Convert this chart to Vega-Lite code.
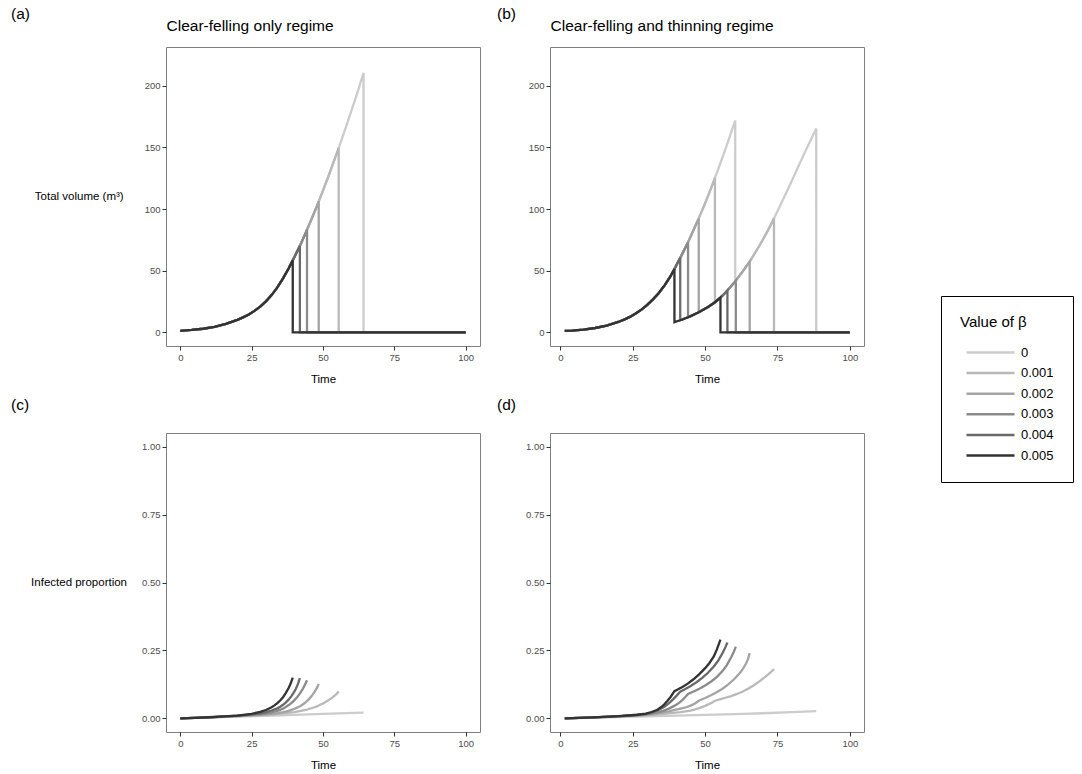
{
"$schema": "https://vega.github.io/schema/vega-lite/v6.json",
"padding": {"left": 10, "top": 6, "right": 0, "bottom": 0},
"config": {
  "font": "Liberation Sans",
  "view": {"stroke": "#7f7f7f", "strokeWidth": 1},
  "axis": {"grid": false, "domain": false, "tickColor": "#333333", "tickSize": 4, "labelColor": "#4d4d4d", "labelFontSize": 9.5, "labelFont": "Liberation Sans", "titleFont": "Liberation Sans", "titleFontSize": 11.5, "titleFontWeight": "normal", "titleColor": "black", "labelPadding": 2, "labelFlush": false, "labelOverlap": false},
  "title": {"anchor": "start", "frame": "group", "fontSize": 15.5, "fontWeight": "normal", "font": "Liberation Sans", "color": "black"},
  "legend": {"orient": "none", "legendX": 775, "legendY": 249, "strokeColor": "black", "fillColor": "white", "padding": 19, "titleFontSize": 15, "titleFontWeight": "normal", "titleColor": "black", "titleFont": "Liberation Sans", "labelFont": "Liberation Sans", "labelFontSize": 13, "labelColor": "black", "symbolSize": 384, "symbolStrokeWidth": 2.5, "symbolOffset": 19, "labelOffset": 19, "rowPadding": 1.6, "titlePadding": 11}
},
"datasets": {
"vol_a": [
{"b":"0","t":0,"v":1.3},{"b":"0","t":4,"v":2.0},{"b":"0","t":8,"v":3.0},{"b":"0","t":12,"v":4.6},{"b":"0","t":16,"v":6.9},{"b":"0","t":20,"v":10.2},{"b":"0","t":22,"v":12.2},{"b":"0","t":24,"v":14.6},{"b":"0","t":26,"v":17.5},{"b":"0","t":28,"v":21.0},{"b":"0","t":30,"v":25.2},{"b":"0","t":32,"v":30.3},{"b":"0","t":34,"v":36.5},{"b":"0","t":36,"v":43.8},{"b":"0","t":38,"v":52.1},{"b":"0","t":39.4,"v":58.5},{"b":"0","t":40,"v":61.2},{"b":"0","t":42,"v":70.8},{"b":"0","t":44,"v":81.1},{"b":"0","t":46,"v":92.0},{"b":"0","t":48,"v":103.3},{"b":"0","t":50,"v":115.1},{"b":"0","t":52,"v":127.3},{"b":"0","t":54,"v":139.9},{"b":"0","t":56,"v":152.9},{"b":"0","t":58,"v":166.3},{"b":"0","t":60,"v":180.1},{"b":"0","t":62,"v":194.1},{"b":"0","t":64.2,"v":210.5},{"b":"0","t":64.2,"v":0},{"b":"0","t":100,"v":0},
{"b":"0.001","t":0,"v":1.3},{"b":"0.001","t":4,"v":2.0},{"b":"0.001","t":8,"v":3.0},{"b":"0.001","t":12,"v":4.6},{"b":"0.001","t":16,"v":6.9},{"b":"0.001","t":20,"v":10.2},{"b":"0.001","t":22,"v":12.2},{"b":"0.001","t":24,"v":14.6},{"b":"0.001","t":26,"v":17.5},{"b":"0.001","t":28,"v":21.0},{"b":"0.001","t":30,"v":25.2},{"b":"0.001","t":32,"v":30.3},{"b":"0.001","t":34,"v":36.5},{"b":"0.001","t":36,"v":43.8},{"b":"0.001","t":38,"v":52.1},{"b":"0.001","t":39.4,"v":58.5},{"b":"0.001","t":40,"v":61.2},{"b":"0.001","t":42,"v":70.8},{"b":"0.001","t":44,"v":81.1},{"b":"0.001","t":46,"v":92.0},{"b":"0.001","t":48,"v":103.3},{"b":"0.001","t":50,"v":115.1},{"b":"0.001","t":52,"v":127.3},{"b":"0.001","t":54,"v":139.9},{"b":"0.001","t":55.5,"v":149.7},{"b":"0.001","t":55.5,"v":0},{"b":"0.001","t":100,"v":0},
{"b":"0.002","t":0,"v":1.3},{"b":"0.002","t":4,"v":2.0},{"b":"0.002","t":8,"v":3.0},{"b":"0.002","t":12,"v":4.6},{"b":"0.002","t":16,"v":6.9},{"b":"0.002","t":20,"v":10.2},{"b":"0.002","t":22,"v":12.2},{"b":"0.002","t":24,"v":14.6},{"b":"0.002","t":26,"v":17.5},{"b":"0.002","t":28,"v":21.0},{"b":"0.002","t":30,"v":25.2},{"b":"0.002","t":32,"v":30.3},{"b":"0.002","t":34,"v":36.5},{"b":"0.002","t":36,"v":43.8},{"b":"0.002","t":38,"v":52.1},{"b":"0.002","t":39.4,"v":58.5},{"b":"0.002","t":40,"v":61.2},{"b":"0.002","t":42,"v":70.8},{"b":"0.002","t":44,"v":81.1},{"b":"0.002","t":46,"v":92.0},{"b":"0.002","t":48,"v":103.3},{"b":"0.002","t":48.5,"v":106.3},{"b":"0.002","t":48.5,"v":0},{"b":"0.002","t":100,"v":0},
{"b":"0.003","t":0,"v":1.3},{"b":"0.003","t":4,"v":2.0},{"b":"0.003","t":8,"v":3.0},{"b":"0.003","t":12,"v":4.6},{"b":"0.003","t":16,"v":6.9},{"b":"0.003","t":20,"v":10.2},{"b":"0.003","t":22,"v":12.2},{"b":"0.003","t":24,"v":14.6},{"b":"0.003","t":26,"v":17.5},{"b":"0.003","t":28,"v":21.0},{"b":"0.003","t":30,"v":25.2},{"b":"0.003","t":32,"v":30.3},{"b":"0.003","t":34,"v":36.5},{"b":"0.003","t":36,"v":43.8},{"b":"0.003","t":38,"v":52.1},{"b":"0.003","t":39.4,"v":58.5},{"b":"0.003","t":40,"v":61.2},{"b":"0.003","t":42,"v":70.8},{"b":"0.003","t":44,"v":81.1},{"b":"0.003","t":44.4,"v":83.3},{"b":"0.003","t":44.4,"v":0},{"b":"0.003","t":100,"v":0},
{"b":"0.004","t":0,"v":1.3},{"b":"0.004","t":4,"v":2.0},{"b":"0.004","t":8,"v":3.0},{"b":"0.004","t":12,"v":4.6},{"b":"0.004","t":16,"v":6.9},{"b":"0.004","t":20,"v":10.2},{"b":"0.004","t":22,"v":12.2},{"b":"0.004","t":24,"v":14.6},{"b":"0.004","t":26,"v":17.5},{"b":"0.004","t":28,"v":21.0},{"b":"0.004","t":30,"v":25.2},{"b":"0.004","t":32,"v":30.3},{"b":"0.004","t":34,"v":36.5},{"b":"0.004","t":36,"v":43.8},{"b":"0.004","t":38,"v":52.1},{"b":"0.004","t":39.4,"v":58.5},{"b":"0.004","t":40,"v":61.2},{"b":"0.004","t":41.9,"v":70.3},{"b":"0.004","t":41.9,"v":0},{"b":"0.004","t":100,"v":0},
{"b":"0.005","t":0,"v":1.3},{"b":"0.005","t":4,"v":2.0},{"b":"0.005","t":8,"v":3.0},{"b":"0.005","t":12,"v":4.6},{"b":"0.005","t":16,"v":6.9},{"b":"0.005","t":20,"v":10.2},{"b":"0.005","t":22,"v":12.2},{"b":"0.005","t":24,"v":14.6},{"b":"0.005","t":26,"v":17.5},{"b":"0.005","t":28,"v":21.0},{"b":"0.005","t":30,"v":25.2},{"b":"0.005","t":32,"v":30.3},{"b":"0.005","t":34,"v":36.5},{"b":"0.005","t":36,"v":43.8},{"b":"0.005","t":38,"v":52.1},{"b":"0.005","t":39.4,"v":58.5},{"b":"0.005","t":39.4,"v":0},{"b":"0.005","t":100,"v":0}
],
"vol_b": [
{"b":"0","t":1.5,"v":1.2},{"b":"0","t":4,"v":1.5},{"b":"0","t":8,"v":2.3},{"b":"0","t":12,"v":3.6},{"b":"0","t":16,"v":5.6},{"b":"0","t":20,"v":8.5},{"b":"0","t":22,"v":10.4},{"b":"0","t":24,"v":12.6},{"b":"0","t":26,"v":15.3},{"b":"0","t":28,"v":18.5},{"b":"0","t":30,"v":22.3},{"b":"0","t":32,"v":26.8},{"b":"0","t":34,"v":32.0},{"b":"0","t":36,"v":38.2},{"b":"0","t":38,"v":45.4},{"b":"0","t":39.4,"v":51.5},{"b":"0","t":40,"v":54.2},{"b":"0","t":41.4,"v":60.5},{"b":"0","t":42,"v":63.3},{"b":"0","t":44.1,"v":73.2},{"b":"0","t":46,"v":83.0},{"b":"0","t":47.8,"v":92.5},{"b":"0","t":50,"v":104.8},{"b":"0","t":52,"v":116.6},{"b":"0","t":53.4,"v":125.3},{"b":"0","t":54,"v":129.1},{"b":"0","t":56,"v":142.0},{"b":"0","t":58,"v":155.3},{"b":"0","t":60.4,"v":171.8},{"b":"0","t":60.4,"v":41.4},{"b":"0","t":60.6,"v":42.0},{"b":"0","t":63,"v":49.5},{"b":"0","t":65.4,"v":57.5},{"b":"0","t":66,"v":59.7},{"b":"0","t":69,"v":71.3},{"b":"0","t":72,"v":84.0},{"b":"0","t":73.8,"v":92.5},{"b":"0","t":75,"v":98.3},{"b":"0","t":78,"v":113.0},{"b":"0","t":81,"v":128.3},{"b":"0","t":84,"v":143.8},{"b":"0","t":87,"v":158.5},{"b":"0","t":88.4,"v":165.5},{"b":"0","t":88.4,"v":0},{"b":"0","t":100,"v":0},
{"b":"0.001","t":1.5,"v":1.2},{"b":"0.001","t":4,"v":1.5},{"b":"0.001","t":8,"v":2.3},{"b":"0.001","t":12,"v":3.6},{"b":"0.001","t":16,"v":5.6},{"b":"0.001","t":20,"v":8.5},{"b":"0.001","t":22,"v":10.4},{"b":"0.001","t":24,"v":12.6},{"b":"0.001","t":26,"v":15.3},{"b":"0.001","t":28,"v":18.5},{"b":"0.001","t":30,"v":22.3},{"b":"0.001","t":32,"v":26.8},{"b":"0.001","t":34,"v":32.0},{"b":"0.001","t":36,"v":38.2},{"b":"0.001","t":38,"v":45.4},{"b":"0.001","t":39.4,"v":51.5},{"b":"0.001","t":40,"v":54.2},{"b":"0.001","t":41.4,"v":60.5},{"b":"0.001","t":42,"v":63.3},{"b":"0.001","t":44.1,"v":73.2},{"b":"0.001","t":46,"v":83.0},{"b":"0.001","t":47.8,"v":92.5},{"b":"0.001","t":50,"v":104.8},{"b":"0.001","t":52,"v":116.6},{"b":"0.001","t":53.4,"v":125.3},{"b":"0.001","t":53.4,"v":24.5},{"b":"0.001","t":54,"v":25.6},{"b":"0.001","t":55.3,"v":28.3},{"b":"0.001","t":57,"v":32.2},{"b":"0.001","t":57.7,"v":34.0},{"b":"0.001","t":60,"v":40.2},{"b":"0.001","t":60.6,"v":42.0},{"b":"0.001","t":63,"v":49.5},{"b":"0.001","t":65.4,"v":57.5},{"b":"0.001","t":66,"v":59.7},{"b":"0.001","t":69,"v":71.3},{"b":"0.001","t":72,"v":84.0},{"b":"0.001","t":73.8,"v":92.5},{"b":"0.001","t":73.8,"v":0},{"b":"0.001","t":100,"v":0},
{"b":"0.002","t":1.5,"v":1.2},{"b":"0.002","t":4,"v":1.5},{"b":"0.002","t":8,"v":2.3},{"b":"0.002","t":12,"v":3.6},{"b":"0.002","t":16,"v":5.6},{"b":"0.002","t":20,"v":8.5},{"b":"0.002","t":22,"v":10.4},{"b":"0.002","t":24,"v":12.6},{"b":"0.002","t":26,"v":15.3},{"b":"0.002","t":28,"v":18.5},{"b":"0.002","t":30,"v":22.3},{"b":"0.002","t":32,"v":26.8},{"b":"0.002","t":34,"v":32.0},{"b":"0.002","t":36,"v":38.2},{"b":"0.002","t":38,"v":45.4},{"b":"0.002","t":39.4,"v":51.5},{"b":"0.002","t":40,"v":54.2},{"b":"0.002","t":41.4,"v":60.5},{"b":"0.002","t":42,"v":63.3},{"b":"0.002","t":44.1,"v":73.2},{"b":"0.002","t":46,"v":83.0},{"b":"0.002","t":47.8,"v":92.5},{"b":"0.002","t":47.8,"v":16.3},{"b":"0.002","t":48,"v":16.5},{"b":"0.002","t":51,"v":20.6},{"b":"0.002","t":53.4,"v":24.5},{"b":"0.002","t":54,"v":25.6},{"b":"0.002","t":55.3,"v":28.3},{"b":"0.002","t":57,"v":32.2},{"b":"0.002","t":57.7,"v":34.0},{"b":"0.002","t":60,"v":40.2},{"b":"0.002","t":60.6,"v":42.0},{"b":"0.002","t":63,"v":49.5},{"b":"0.002","t":65.4,"v":57.5},{"b":"0.002","t":65.4,"v":0},{"b":"0.002","t":100,"v":0},
{"b":"0.003","t":1.5,"v":1.2},{"b":"0.003","t":4,"v":1.5},{"b":"0.003","t":8,"v":2.3},{"b":"0.003","t":12,"v":3.6},{"b":"0.003","t":16,"v":5.6},{"b":"0.003","t":20,"v":8.5},{"b":"0.003","t":22,"v":10.4},{"b":"0.003","t":24,"v":12.6},{"b":"0.003","t":26,"v":15.3},{"b":"0.003","t":28,"v":18.5},{"b":"0.003","t":30,"v":22.3},{"b":"0.003","t":32,"v":26.8},{"b":"0.003","t":34,"v":32.0},{"b":"0.003","t":36,"v":38.2},{"b":"0.003","t":38,"v":45.4},{"b":"0.003","t":39.4,"v":51.5},{"b":"0.003","t":40,"v":54.2},{"b":"0.003","t":41.4,"v":60.5},{"b":"0.003","t":42,"v":63.3},{"b":"0.003","t":44.1,"v":73.2},{"b":"0.003","t":44.1,"v":12.3},{"b":"0.003","t":45,"v":13.2},{"b":"0.003","t":47.8,"v":16.3},{"b":"0.003","t":51,"v":20.6},{"b":"0.003","t":53.4,"v":24.5},{"b":"0.003","t":55.3,"v":28.3},{"b":"0.003","t":57,"v":32.2},{"b":"0.003","t":57.7,"v":34.0},{"b":"0.003","t":60,"v":40.2},{"b":"0.003","t":60.6,"v":42.0},{"b":"0.003","t":60.6,"v":0},{"b":"0.003","t":100,"v":0},
{"b":"0.004","t":1.5,"v":1.2},{"b":"0.004","t":4,"v":1.5},{"b":"0.004","t":8,"v":2.3},{"b":"0.004","t":12,"v":3.6},{"b":"0.004","t":16,"v":5.6},{"b":"0.004","t":20,"v":8.5},{"b":"0.004","t":22,"v":10.4},{"b":"0.004","t":24,"v":12.6},{"b":"0.004","t":26,"v":15.3},{"b":"0.004","t":28,"v":18.5},{"b":"0.004","t":30,"v":22.3},{"b":"0.004","t":32,"v":26.8},{"b":"0.004","t":34,"v":32.0},{"b":"0.004","t":36,"v":38.2},{"b":"0.004","t":38,"v":45.4},{"b":"0.004","t":39.4,"v":51.5},{"b":"0.004","t":40,"v":54.2},{"b":"0.004","t":41.4,"v":60.5},{"b":"0.004","t":41.4,"v":9.9},{"b":"0.004","t":42,"v":10.4},{"b":"0.004","t":44.1,"v":12.3},{"b":"0.004","t":45,"v":13.2},{"b":"0.004","t":47.8,"v":16.3},{"b":"0.004","t":51,"v":20.6},{"b":"0.004","t":53.4,"v":24.5},{"b":"0.004","t":55.3,"v":28.3},{"b":"0.004","t":57,"v":32.2},{"b":"0.004","t":57.7,"v":34.0},{"b":"0.004","t":57.7,"v":0},{"b":"0.004","t":100,"v":0},
{"b":"0.005","t":1.5,"v":1.2},{"b":"0.005","t":4,"v":1.5},{"b":"0.005","t":8,"v":2.3},{"b":"0.005","t":12,"v":3.6},{"b":"0.005","t":16,"v":5.6},{"b":"0.005","t":20,"v":8.5},{"b":"0.005","t":22,"v":10.4},{"b":"0.005","t":24,"v":12.6},{"b":"0.005","t":26,"v":15.3},{"b":"0.005","t":28,"v":18.5},{"b":"0.005","t":30,"v":22.3},{"b":"0.005","t":32,"v":26.8},{"b":"0.005","t":34,"v":32.0},{"b":"0.005","t":36,"v":38.2},{"b":"0.005","t":38,"v":45.4},{"b":"0.005","t":39.4,"v":51.5},{"b":"0.005","t":39.4,"v":8.3},{"b":"0.005","t":41.4,"v":9.9},{"b":"0.005","t":42,"v":10.4},{"b":"0.005","t":44.1,"v":12.3},{"b":"0.005","t":45,"v":13.2},{"b":"0.005","t":47.8,"v":16.3},{"b":"0.005","t":51,"v":20.6},{"b":"0.005","t":53.4,"v":24.5},{"b":"0.005","t":55.3,"v":28.3},{"b":"0.005","t":55.3,"v":0},{"b":"0.005","t":100,"v":0}
],
"inf_c": [
{"b":"0","t":0,"p":0},{"b":"0","t":10,"p":0.0031},{"b":"0","t":20,"p":0.0064},{"b":"0","t":30,"p":0.0098},{"b":"0","t":40,"p":0.0133},{"b":"0","t":50,"p":0.0168},{"b":"0","t":64.2,"p":0.021},
{"b":"0.001","t":0,"p":0},{"b":"0.001","t":5,"p":0.0017},{"b":"0.001","t":10,"p":0.0036},{"b":"0.001","t":15,"p":0.0058},{"b":"0.001","t":20,"p":0.0082},{"b":"0.001","t":25,"p":0.0105},{"b":"0.001","t":30,"p":0.0135},{"b":"0.001","t":35,"p":0.0175},{"b":"0.001","t":40,"p":0.0235},{"b":"0.001","t":44,"p":0.031},{"b":"0.001","t":47,"p":0.041},{"b":"0.001","t":48,"p":0.045},{"b":"0.001","t":49,"p":0.05},{"b":"0.001","t":50,"p":0.055},{"b":"0.001","t":51,"p":0.061},{"b":"0.001","t":52,"p":0.0675},{"b":"0.001","t":53,"p":0.0745},{"b":"0.001","t":54,"p":0.0825},{"b":"0.001","t":55,"p":0.093},{"b":"0.001","t":55.5,"p":0.099},
{"b":"0.002","t":0,"p":0},{"b":"0.002","t":5,"p":0.0017},{"b":"0.002","t":10,"p":0.0038},{"b":"0.002","t":15,"p":0.0062},{"b":"0.002","t":20,"p":0.0088},{"b":"0.002","t":25,"p":0.011},{"b":"0.002","t":30,"p":0.0145},{"b":"0.002","t":32,"p":0.0165},{"b":"0.002","t":34,"p":0.019},{"b":"0.002","t":36,"p":0.023},{"b":"0.002","t":38,"p":0.028},{"b":"0.002","t":40,"p":0.035},{"b":"0.002","t":42,"p":0.045},{"b":"0.002","t":43,"p":0.052},{"b":"0.002","t":44,"p":0.06},{"b":"0.002","t":45,"p":0.07},{"b":"0.002","t":46,"p":0.082},{"b":"0.002","t":47,"p":0.097},{"b":"0.002","t":48,"p":0.115},{"b":"0.002","t":48.5,"p":0.127},
{"b":"0.003","t":0,"p":0},{"b":"0.003","t":5,"p":0.0018},{"b":"0.003","t":10,"p":0.0039},{"b":"0.003","t":15,"p":0.0065},{"b":"0.003","t":20,"p":0.0095},{"b":"0.003","t":25,"p":0.013},{"b":"0.003","t":28,"p":0.0155},{"b":"0.003","t":30,"p":0.018},{"b":"0.003","t":32,"p":0.022},{"b":"0.003","t":34,"p":0.028},{"b":"0.003","t":36,"p":0.036},{"b":"0.003","t":38,"p":0.049},{"b":"0.003","t":39,"p":0.057},{"b":"0.003","t":40,"p":0.067},{"b":"0.003","t":41,"p":0.079},{"b":"0.003","t":42,"p":0.093},{"b":"0.003","t":43,"p":0.11},{"b":"0.003","t":44,"p":0.131},{"b":"0.003","t":44.4,"p":0.14},
{"b":"0.004","t":0,"p":0},{"b":"0.004","t":5,"p":0.0018},{"b":"0.004","t":10,"p":0.004},{"b":"0.004","t":15,"p":0.0068},{"b":"0.004","t":20,"p":0.01},{"b":"0.004","t":25,"p":0.0145},{"b":"0.004","t":28,"p":0.019},{"b":"0.004","t":30,"p":0.023},{"b":"0.004","t":32,"p":0.029},{"b":"0.004","t":34,"p":0.037},{"b":"0.004","t":35,"p":0.043},{"b":"0.004","t":36,"p":0.05},{"b":"0.004","t":37,"p":0.059},{"b":"0.004","t":38,"p":0.07},{"b":"0.004","t":39,"p":0.083},{"b":"0.004","t":40,"p":0.099},{"b":"0.004","t":40.5,"p":0.109},{"b":"0.004","t":41.2,"p":0.126},{"b":"0.004","t":41.9,"p":0.148},
{"b":"0.005","t":0,"p":0},{"b":"0.005","t":5,"p":0.0019},{"b":"0.005","t":10,"p":0.0042},{"b":"0.005","t":15,"p":0.0072},{"b":"0.005","t":20,"p":0.0105},{"b":"0.005","t":25,"p":0.017},{"b":"0.005","t":28,"p":0.024},{"b":"0.005","t":30,"p":0.031},{"b":"0.005","t":32,"p":0.041},{"b":"0.005","t":33,"p":0.048},{"b":"0.005","t":34,"p":0.056},{"b":"0.005","t":35,"p":0.066},{"b":"0.005","t":36,"p":0.078},{"b":"0.005","t":37,"p":0.094},{"b":"0.005","t":38,"p":0.113},{"b":"0.005","t":38.7,"p":0.129},{"b":"0.005","t":39.4,"p":0.15}
],
"inf_d": [
{"b":"0","t":1.5,"p":0},{"b":"0","t":10,"p":0.0022},{"b":"0","t":20,"p":0.0048},{"b":"0","t":30,"p":0.0074},{"b":"0","t":40,"p":0.01},{"b":"0","t":50,"p":0.0127},{"b":"0","t":60.4,"p":0.0157},{"b":"0","t":70,"p":0.019},{"b":"0","t":80,"p":0.0228},{"b":"0","t":88.4,"p":0.0265},
{"b":"0.001","t":1.5,"p":0},{"b":"0.001","t":6.5,"p":0.0017},{"b":"0.001","t":11.5,"p":0.0036},{"b":"0.001","t":16.5,"p":0.0058},{"b":"0.001","t":21.5,"p":0.0082},{"b":"0.001","t":26.5,"p":0.0105},{"b":"0.001","t":31.5,"p":0.0135},{"b":"0.001","t":36.5,"p":0.0175},{"b":"0.001","t":41.5,"p":0.0235},{"b":"0.001","t":45,"p":0.029},{"b":"0.001","t":48,"p":0.038},{"b":"0.001","t":50,"p":0.046},{"b":"0.001","t":52,"p":0.056},{"b":"0.001","t":53.4,"p":0.065},{"b":"0.001","t":55,"p":0.07},{"b":"0.001","t":57,"p":0.076},{"b":"0.001","t":59,"p":0.082},{"b":"0.001","t":61,"p":0.09},{"b":"0.001","t":63,"p":0.099},{"b":"0.001","t":65,"p":0.11},{"b":"0.001","t":67,"p":0.123},{"b":"0.001","t":69,"p":0.138},{"b":"0.001","t":71,"p":0.155},{"b":"0.001","t":72.5,"p":0.168},{"b":"0.001","t":73.8,"p":0.182},
{"b":"0.002","t":1.5,"p":0},{"b":"0.002","t":6.5,"p":0.0017},{"b":"0.002","t":11.5,"p":0.0038},{"b":"0.002","t":16.5,"p":0.0062},{"b":"0.002","t":21.5,"p":0.0088},{"b":"0.002","t":26.5,"p":0.011},{"b":"0.002","t":29.5,"p":0.013},{"b":"0.002","t":31.5,"p":0.0155},{"b":"0.002","t":33.5,"p":0.0185},{"b":"0.002","t":35.5,"p":0.022},{"b":"0.002","t":37.5,"p":0.026},{"b":"0.002","t":39.5,"p":0.031},{"b":"0.002","t":41.5,"p":0.036},{"b":"0.002","t":43.5,"p":0.041},{"b":"0.002","t":45,"p":0.047},{"b":"0.002","t":46.5,"p":0.055},{"b":"0.002","t":47.8,"p":0.065},{"b":"0.002","t":50,"p":0.075},{"b":"0.002","t":52,"p":0.085},{"b":"0.002","t":54,"p":0.096},{"b":"0.002","t":56,"p":0.109},{"b":"0.002","t":58,"p":0.125},{"b":"0.002","t":60,"p":0.144},{"b":"0.002","t":62,"p":0.167},{"b":"0.002","t":63,"p":0.181},{"b":"0.002","t":64,"p":0.199},{"b":"0.002","t":64.8,"p":0.218},{"b":"0.002","t":65.4,"p":0.24},
{"b":"0.003","t":1.5,"p":0},{"b":"0.003","t":6.5,"p":0.0018},{"b":"0.003","t":11.5,"p":0.0039},{"b":"0.003","t":16.5,"p":0.0065},{"b":"0.003","t":21.5,"p":0.0095},{"b":"0.003","t":26.5,"p":0.013},{"b":"0.003","t":29.5,"p":0.0155},{"b":"0.003","t":31.5,"p":0.018},{"b":"0.003","t":33.5,"p":0.022},{"b":"0.003","t":35.5,"p":0.028},{"b":"0.003","t":37.5,"p":0.036},{"b":"0.003","t":39.5,"p":0.047},{"b":"0.003","t":41,"p":0.057},{"b":"0.003","t":42,"p":0.066},{"b":"0.003","t":43,"p":0.077},{"b":"0.003","t":44.1,"p":0.09},{"b":"0.003","t":46,"p":0.099},{"b":"0.003","t":48,"p":0.109},{"b":"0.003","t":50,"p":0.121},{"b":"0.003","t":52,"p":0.135},{"b":"0.003","t":54,"p":0.152},{"b":"0.003","t":56,"p":0.174},{"b":"0.003","t":57.5,"p":0.196},{"b":"0.003","t":59,"p":0.225},{"b":"0.003","t":60,"p":0.247},{"b":"0.003","t":60.6,"p":0.264},
{"b":"0.004","t":1.5,"p":0},{"b":"0.004","t":6.5,"p":0.0016},{"b":"0.004","t":11.5,"p":0.0036},{"b":"0.004","t":16.5,"p":0.006},{"b":"0.004","t":21.5,"p":0.0088},{"b":"0.004","t":26.5,"p":0.0125},{"b":"0.004","t":29.5,"p":0.016},{"b":"0.004","t":31.5,"p":0.021},{"b":"0.004","t":33.5,"p":0.029},{"b":"0.004","t":35,"p":0.037},{"b":"0.004","t":36,"p":0.044},{"b":"0.004","t":37,"p":0.052},{"b":"0.004","t":38,"p":0.061},{"b":"0.004","t":39,"p":0.071},{"b":"0.004","t":40,"p":0.082},{"b":"0.004","t":41.4,"p":0.098},{"b":"0.004","t":43,"p":0.107},{"b":"0.004","t":45,"p":0.119},{"b":"0.004","t":47,"p":0.133},{"b":"0.004","t":49,"p":0.149},{"b":"0.004","t":51,"p":0.168},{"b":"0.004","t":53,"p":0.191},{"b":"0.004","t":54.5,"p":0.212},{"b":"0.004","t":56,"p":0.24},{"b":"0.004","t":57,"p":0.262},{"b":"0.004","t":57.7,"p":0.279},
{"b":"0.005","t":1.5,"p":0},{"b":"0.005","t":6.5,"p":0.0017},{"b":"0.005","t":11.5,"p":0.0037},{"b":"0.005","t":16.5,"p":0.0062},{"b":"0.005","t":21.5,"p":0.0092},{"b":"0.005","t":26.5,"p":0.0135},{"b":"0.005","t":29.5,"p":0.018},{"b":"0.005","t":31.5,"p":0.0235},{"b":"0.005","t":33.5,"p":0.032},{"b":"0.005","t":35,"p":0.043},{"b":"0.005","t":36,"p":0.053},{"b":"0.005","t":37,"p":0.065},{"b":"0.005","t":38,"p":0.078},{"b":"0.005","t":39.4,"p":0.1},{"b":"0.005","t":40.5,"p":0.106},{"b":"0.005","t":42,"p":0.115},{"b":"0.005","t":44,"p":0.128},{"b":"0.005","t":46,"p":0.144},{"b":"0.005","t":48,"p":0.163},{"b":"0.005","t":50,"p":0.185},{"b":"0.005","t":51.5,"p":0.204},{"b":"0.005","t":53,"p":0.228},{"b":"0.005","t":54,"p":0.252},{"b":"0.005","t":55.3,"p":0.29}
]
},
"columns": 2,
"spacing": {"row": 11, "column": 15},
"concat": [
{
  "width": 314, "height": 299,
  "title": {"text": "(a)", "dx": -155, "offset": -4},
  "resolve": {"axis": {"x": "independent"}},
  "layer": [
    {"data": {"name": "vol_a"}, "mark": {"type": "line", "strokeWidth": 2.3},
     "encoding": {
       "x": {"field": "t", "type": "quantitative", "scale": {"domain": [-5, 105], "nice": false, "zero": false}, "axis": {"values": [0, 25, 50, 75, 100], "title": "Time", "titlePadding": 12}},
       "y": {"field": "v", "type": "quantitative", "scale": {"domain": [-11, 231.5], "nice": false, "zero": false}, "axis": {"values": [0, 50, 100, 150, 200], "title": "Total volume (m³)", "titleAngle": 0, "titleAlign": "right", "titleBaseline": "middle", "titlePadding": 21}},
       "color": {"field": "b", "type": "ordinal", "title": "Value of β", "scale": {"domain": ["0", "0.001", "0.002", "0.003", "0.004", "0.005"], "range": ["#cccccc", "#b9b9b9", "#a4a4a4", "#8b8b8b", "#6a6a6a", "#333333"]}, "legend": {"symbolType": "M-2.45,0H2.45"}}
     }},
    {"data": {"values": [{}]}, "mark": {"type": "rule", "opacity": 0},
     "encoding": {"x": {"datum": 0, "type": "quantitative", "axis": {"orient": "top", "title": "Clear-felling only regime", "labels": false, "ticks": false, "domain": false, "titleAnchor": "start", "titleAlign": "left", "titleFontSize": 15.5, "titlePadding": 14}}}}
  ]
},
{
  "width": 314, "height": 299,
  "title": {"text": "(b)", "dx": -53, "offset": -4},
  "resolve": {"axis": {"x": "independent"}},
  "layer": [
    {"data": {"name": "vol_b"}, "mark": {"type": "line", "strokeWidth": 2.3},
     "encoding": {
       "x": {"field": "t", "type": "quantitative", "scale": {"domain": [-3.6, 104.9], "nice": false, "zero": false}, "axis": {"values": [0, 25, 50, 75, 100], "title": "Time", "titlePadding": 12}},
       "y": {"field": "v", "type": "quantitative", "scale": {"domain": [-11, 231.5], "nice": false, "zero": false}, "axis": {"values": [0, 50, 100, 150, 200], "title": null}},
       "color": {"field": "b", "type": "ordinal", "title": "Value of β", "scale": {"domain": ["0", "0.001", "0.002", "0.003", "0.004", "0.005"], "range": ["#cccccc", "#b9b9b9", "#a4a4a4", "#8b8b8b", "#6a6a6a", "#333333"]}, "legend": {"symbolType": "M-2.45,0H2.45"}}
     }},
    {"data": {"values": [{}]}, "mark": {"type": "rule", "opacity": 0},
     "encoding": {"x": {"datum": 0, "type": "quantitative", "axis": {"orient": "top", "title": "Clear-felling and thinning regime", "labels": false, "ticks": false, "domain": false, "titleAnchor": "start", "titleAlign": "left", "titleFontSize": 15.5, "titlePadding": 14}}}}
  ]
},
{
  "width": 314, "height": 299,
  "title": {"text": "(c)", "dx": -155, "offset": 20},
  "data": {"name": "inf_c"},
  "mark": {"type": "line", "strokeWidth": 2.3},
  "encoding": {
    "x": {"field": "t", "type": "quantitative", "scale": {"domain": [-5, 105], "nice": false, "zero": false}, "axis": {"values": [0, 25, 50, 75, 100], "title": "Time", "titlePadding": 12}},
    "y": {"field": "p", "type": "quantitative", "scale": {"domain": [-0.05, 1.05], "nice": false, "zero": false}, "axis": {"values": [0, 0.25, 0.5, 0.75, 1], "format": ".2f", "title": "Infected proportion", "titleAngle": 0, "titleAlign": "right", "titleBaseline": "middle", "titlePadding": 15}},
    "color": {"field": "b", "type": "ordinal", "title": "Value of β", "scale": {"domain": ["0", "0.001", "0.002", "0.003", "0.004", "0.005"], "range": ["#cccccc", "#b9b9b9", "#a4a4a4", "#8b8b8b", "#6a6a6a", "#333333"]}, "legend": {"symbolType": "M-2.45,0H2.45"}}
  }
},
{
  "width": 314, "height": 299,
  "title": {"text": "(d)", "dx": -53, "offset": 20},
  "data": {"name": "inf_d"},
  "mark": {"type": "line", "strokeWidth": 2.3},
  "encoding": {
    "x": {"field": "t", "type": "quantitative", "scale": {"domain": [-3.6, 104.9], "nice": false, "zero": false}, "axis": {"values": [0, 25, 50, 75, 100], "title": "Time", "titlePadding": 12}},
    "y": {"field": "p", "type": "quantitative", "scale": {"domain": [-0.05, 1.05], "nice": false, "zero": false}, "axis": {"values": [0, 0.25, 0.5, 0.75, 1], "format": ".2f", "title": null}},
    "color": {"field": "b", "type": "ordinal", "title": "Value of β", "scale": {"domain": ["0", "0.001", "0.002", "0.003", "0.004", "0.005"], "range": ["#cccccc", "#b9b9b9", "#a4a4a4", "#8b8b8b", "#6a6a6a", "#333333"]}, "legend": {"symbolType": "M-2.45,0H2.45"}}
  }
}
]
}
